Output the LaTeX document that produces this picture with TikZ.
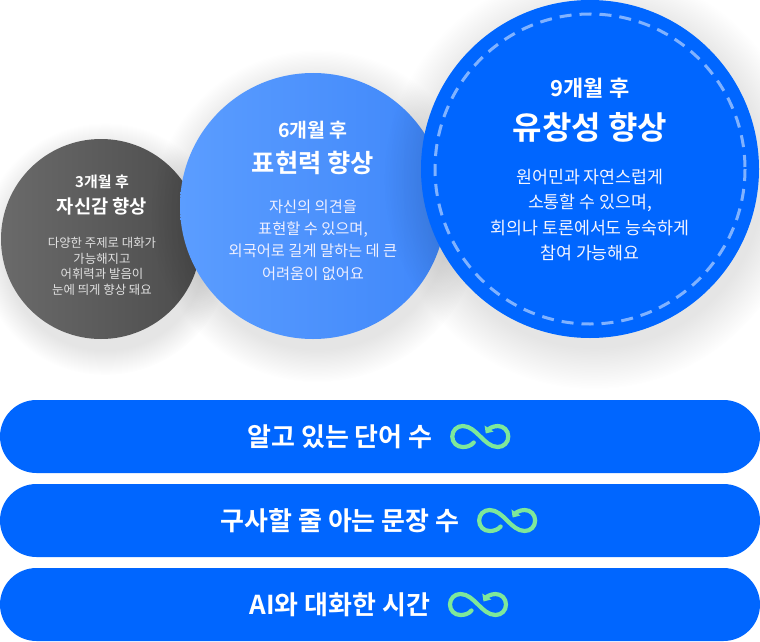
\documentclass[tikz,border=0pt]{standalone}
\usepackage{fontspec}
\setmainfont{Noto Sans CJK KR}[BoldFont={Noto Sans CJK KR Bold}]
\usepackage{tikz}
\usetikzlibrary{calc,shapes,arrows.meta,fadings}

\definecolor{darkgrayL}{HTML}{6A6A6A}
\definecolor{darkgrayR}{HTML}{4C4C4C}
\definecolor{midblueL}{HTML}{5B9DFF}
\definecolor{midblueR}{HTML}{3F87FA}
\definecolor{mainblue}{HTML}{0066FF}
\definecolor{loopgreen}{HTML}{7EE89A}

\tikzset{
	bubble/.style={circle, inner sep=0pt, minimum size=#1},
	softshadow/.style={fill=black, fill opacity=0.1, path fading=circle with fuzzy edge 20 percent},
	month/.style={text=white, font=\bfseries\fontsize{#1}{#1}\selectfont},
	headline/.style={text=white, font=\bfseries\fontsize{#1}{#1}\selectfont},
	body/.style n args={3}{text=#1, align=center, inner sep=0pt, font=\fontsize{#2}{#3}\selectfont},
	ring/.style={draw=white, draw opacity=0.5, line width=3pt, dash pattern=on 12pt off 8pt},
	bar/.style={rectangle, rounded corners=36.5pt, fill=mainblue, minimum width=760pt, minimum height=73pt, inner sep=0pt},
	bartext/.style={text=white, inner sep=0pt, font=\bfseries\fontsize{26}{30}\selectfont},
	loopline/.style={draw=loopgreen, line width=4.2pt, line cap=round, -{Triangle[length=6pt,width=10.5pt]}},
	loopicon/.pic={
		\draw[loopline] (25,6) .. controls (22,9.5) and (18,10.5) .. (14,10.5)
			.. controls (8,10.5) and (3.5,6) .. (3.5,0)
			.. controls (3.5,-6) and (8,-10.5) .. (14,-10.5)
			.. controls (21,-10.5) and (26.5,-5) .. (31.5,0)
			.. controls (36.5,5) and (42,10.5) .. (49,10.5)
			.. controls (55,10.5) and (59.5,6) .. (59.5,0)
			.. controls (59.5,-6) and (55,-10.5) .. (49,-10.5)
			.. controls (44,-10.5) and (40,-7.5) .. (37,-3);
	}
}

\begin{document}
\begin{tikzpicture}[x=1pt, y=-1pt]
		\path[use as bounding box, fill=white] (0,0) rectangle (760,642);

		\fill[softshadow] (105, 249) circle [radius=126];
		\draw (101, 239) node[bubble=200pt, left color=darkgrayL, right color=darkgrayR] (c1) {};
		\draw (102, 182) node[month=15] (m1) {3개월 후};
		\draw (102, 206) node[headline=18.7] (h1) {자신감 향상};
		\draw (102, 266.5) node[body={white!88!black}{12.4}{15.7}] (d1) {다양한 주제로 대화가\\가능해지고\\어휘력과 발음이\\눈에 띄게 향상 돼요};

		\fill[softshadow] (317, 216) circle [radius=166];
		\draw (313, 206) node[bubble=266pt, left color=midblueL, right color=midblueR] (c2) {};
		\draw (313, 130) node[month=19.5] (m2) {6개월 후};
		\draw (313, 163) node[headline=25.3] (h2) {표현력 향상};
		\draw (313, 240) node[body={white!94!blue}{15.3}{22.2}] (d2) {자신의 의견을\\표현할 수 있으며,\\외국어로 길게 말하는 데 큰\\어려움이 없어요};

		\fill[softshadow] (594, 179) circle [radius=210];
		\draw (590, 169) node[bubble=338pt, fill=mainblue] (c3) {};
		\draw[ring] (c3.center) circle [radius=155];
		\draw (590, 88) node[month=22] (m3) {9개월 후};
		\draw (590, 127) node[headline=32] (h3) {유창성 향상};
		\draw (590, 215) node[body={white!96!blue}{17.3}{25.3}] (d3) {원어민과 자연스럽게\\소통할 수 있으며,\\회의나 토론에서도 능숙하게\\참여 가능해요};

		\draw (380, 436.5) node[bar] (b1) {};
		\draw (340, 436.5) node[bartext] (t1) {알고 있는 단어 수};
		\pic at ([xshift=16pt]t1.east) {loopicon};

		\draw (380, 520.5) node[bar] (b2) {};
		\draw (340, 520.5) node[bartext] (t2) {구사할 줄 아는 문장 수};
		\pic at ([xshift=16pt]t2.east) {loopicon};

		\draw (380, 604.5) node[bar] (b3) {};
		\draw (340, 604.5) node[bartext] (t3) {AI와 대화한 시간};
		\pic at ([xshift=16pt]t3.east) {loopicon};
	\end{tikzpicture}
\end{document}
